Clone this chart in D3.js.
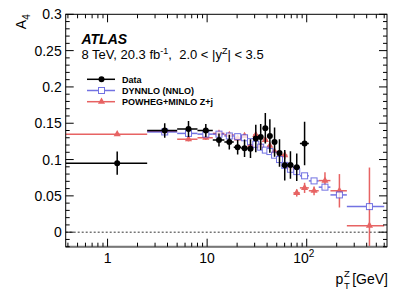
<!DOCTYPE html>
<html>
<head>
<meta charset="utf-8">
<script src="https://cdn.jsdelivr.net/npm/d3@7"></script>
<style>
  body { margin: 0; background: #fff; }
  text { font-family: "Liberation Sans", Arial, sans-serif; }
</style>
</head>
<body>
<div id="vizArea"></div>
<script>

var w = 409
var h = 294

// DATA ********************************
// pT bin edges (GeV)
var binLo = [0, 2.5, 5, 8, 11.4, 14.9, 18.5, 22, 25.5, 29, 32.6, 36.4, 40.4, 44.9, 50.2, 56.4, 63.9, 73.4, 85.4, 105, 132, 173, 253]
var binHi = [2.5, 5, 8, 11.4, 14.9, 18.5, 22, 25.5, 29, 32.6, 36.4, 40.4, 44.9, 50.2, 56.4, 63.9, 73.4, 85.4, 105, 132, 173, 253, 600]

// measured A4 (only up to 105 GeV)
var dataVals = [0.095, 0.140, 0.142, 0.140, 0.127, 0.124, 0.117, 0.1155, 0.115, 0.129, 0.131, 0.143, 0.1325, 0.124, 0.109, 0.092, 0.0926, 0.0894, 0.122]
var dataErr  = [0.016, 0.010, 0.011, 0.009, 0.009, 0.010, 0.010, 0.012, 0.013, 0.019, 0.018, 0.021, 0.023, 0.020, 0.019, 0.021, 0.019, 0.019, 0.030]

// DYNNLO (NNLO), no prediction in first bin
var dynVals = [null, 0.138, 0.136, 0.135, 0.135, 0.1325, 0.1315, 0.130, 0.1246, 0.121, 0.117, 0.113, 0.111, 0.106, 0.100, 0.092, 0.0866, 0.0834, 0.0776, 0.0706, 0.062, 0.0513, 0.0352]
var dynErr   = [null, 0.002, 0.002, 0.002, 0.002, 0.002, 0.002, 0.002, 0.002, 0.002, 0.002, 0.002, 0.002, 0.002, 0.002, 0.002, 0.002, 0.002, 0.002, 0.002, 0.002, 0.002, 0.002]

// POWHEG+MINLO Z+j
var powVals = [0.135, 0.139, 0.128, 0.130, 0.136, 0.134, 0.129, 0.1325, 0.119, 0.134, 0.119, 0.127, 0.119, 0.111, 0.108, 0.106, 0.089, 0.054, 0.061, 0.057, 0.071, 0.057, 0.009]
var powErr   = [0.002, 0.003, 0.003, 0.003, 0.003, 0.003, 0.003, 0.003, 0.004, 0.004, 0.004, 0.004, 0.004, 0.004, 0.005, 0.005, 0.005, 0.005, 0.007, 0.006, 0.0115, 0.023, 0.08]

var yTicks = [0, 0.05, 0.1, 0.15, 0.2, 0.25, 0.3]
var yTickLabels = ["0", "0.05", "0.1", "0.15", "0.2", "0.25", "0.3"]
var xTicks = [1, 10, 100]

var legendNames = ["Data", "DYNNLO (NNLO)", "POWHEG+MINLO Z+j"]

// SET-UP ********************************
var frame = {left: 65.7, right: 387, top: 14.3, bottom: 246.7}
var xMin = 0.38, xMax = 640

var x = d3.scaleLog().domain([xMin, xMax]).range([frame.left, frame.right])
var y = d3.scaleLinear().domain([-0.02, 0.3]).range([frame.bottom, frame.top])

var blue = "#5050dc"
var red = "#e23c3c"

var svg = d3.select("#vizArea").append("svg")
    .attr("width", w)
    .attr("height", h)
    .style("display", "block")

svg.append("rect").attr("width", w).attr("height", h).attr("fill", "#fff")

svg.append("defs").append("clipPath").attr("id", "clip")
    .append("rect")
    .attr("x", frame.left).attr("y", frame.top)
    .attr("width", frame.right - frame.left)
    .attr("height", frame.bottom - frame.top)

function binCenter(i) { return (binLo[i] + binHi[i]) / 2 }
function xs(v) { return x(Math.max(v, xMin)) }

// dashed zero line
svg.append("line")
    .attr("x1", frame.left).attr("x2", frame.right)
    .attr("y1", y(0)).attr("y2", y(0))
    .attr("stroke", "#000").attr("stroke-width", 0.8)
    .attr("stroke-dasharray", "2,2")

var plot = svg.append("g").attr("clip-path", "url(#clip)")

// draw one series: horizontal bin bar, vertical error bar, marker
function drawSeries(vals, errs, color, opacity, width, marker) {
    var pts = vals.map(function(v, i) { return {v: v, e: errs[i], i: i} })
        .filter(function(d) { return d.v !== null })

    var g = plot.append("g").attr("opacity", opacity)

    g.selectAll("line.hbar").data(pts).enter().append("line")
        .attr("x1", function(d) { return xs(binLo[d.i]) })
        .attr("x2", function(d) { return xs(binHi[d.i]) })
        .attr("y1", function(d) { return y(d.v) })
        .attr("y2", function(d) { return y(d.v) })
        .attr("stroke", color).attr("stroke-width", width)

    g.selectAll("line.vbar").data(pts).enter().append("line")
        .attr("x1", function(d) { return x(binCenter(d.i)) })
        .attr("x2", function(d) { return x(binCenter(d.i)) })
        .attr("y1", function(d) { return y(d.v - d.e) })
        .attr("y2", function(d) { return y(d.v + d.e) })
        .attr("stroke", color).attr("stroke-width", width)

    pts.forEach(function(d) {
        marker(g, x(binCenter(d.i)), y(d.v))
    })
}

function circleMarker(g, cx, cy) {
    g.append("circle").attr("cx", cx).attr("cy", cy).attr("r", 3).attr("fill", "#000")
}
function squareMarker(g, cx, cy) {
    g.append("rect").attr("x", cx - 3).attr("y", cy - 3).attr("width", 6).attr("height", 6)
        .attr("fill", "#fff").attr("stroke", blue).attr("stroke-width", 1)
}
function triMarker(g, cx, cy) {
    g.append("path").attr("d", d3.symbol(d3.symbolTriangle, 22)()).attr("transform", "translate(" + cx + "," + cy + ")")
        .attr("fill", red)
}

drawSeries(powVals, powErr, red, 0.8, 1.5, triMarker)
drawSeries(dynVals, dynErr, blue, 0.8, 1.5, squareMarker)
drawSeries(dataVals, dataErr, "#000", 1, 1.5, circleMarker)

// AXES / FRAME ********************************
svg.append("rect")
    .attr("x", frame.left).attr("y", frame.top)
    .attr("width", frame.right - frame.left).attr("height", frame.bottom - frame.top)
    .attr("fill", "none").attr("stroke", "#000").attr("stroke-width", 1)
svg.append("line")
    .attr("x1", frame.left).attr("x2", frame.right)
    .attr("y1", frame.bottom).attr("y2", frame.bottom)
    .attr("stroke", "#777").attr("stroke-width", 2)

var ticks = svg.append("g").attr("stroke", "#000").attr("stroke-width", 1)

// y ticks (left and right), minor every 0.01
d3.range(-2, 31).forEach(function(k) {
    var v = k / 100
    var major = (k % 5 === 0)
    var len = major ? 8 : 4
    ticks.append("line").attr("x1", frame.left).attr("x2", frame.left + len)
        .attr("y1", y(v)).attr("y2", y(v))
    ticks.append("line").attr("x1", frame.right).attr("x2", frame.right - len)
        .attr("y1", y(v)).attr("y2", y(v))
})

// x ticks (bottom and top), log minor
var xMinor = []
;[0.1, 1, 10, 100].forEach(function(dec) {
    d3.range(1, 10).forEach(function(m) {
        var v = dec * m
        if (v >= xMin && v <= xMax) xMinor.push(v)
    })
})
xMinor.forEach(function(v) {
    var len = xTicks.indexOf(v) >= 0 ? 8 : 4
    ticks.append("line").attr("x1", x(v)).attr("x2", x(v))
        .attr("y1", frame.bottom).attr("y2", frame.bottom - len)
    ticks.append("line").attr("x1", x(v)).attr("x2", x(v))
        .attr("y1", frame.top).attr("y2", frame.top + len)
})

// tick labels
svg.selectAll("text.ylab").data(yTicks).enter().append("text")
    .attr("x", frame.left - 4)
    .attr("y", function(d) { return y(d) + 5 })
    .attr("text-anchor", "end")
    .attr("font-size", 14)
    .text(function(d, i) { return yTickLabels[i] })

var xl = svg.append("g").attr("font-size", 14).attr("text-anchor", "middle")
xl.append("text").attr("x", x(1)).attr("y", 263).text("1")
xl.append("text").attr("x", x(10)).attr("y", 263).text("10")
var x100 = xl.append("text").attr("x", x(100) - 3).attr("y", 263)
x100.append("tspan").text("10")
x100.append("tspan").attr("font-size", 10).attr("dy", -6).text("2")

// axis titles
var yt = svg.append("text")
    .attr("transform", "translate(26," + frame.top + ") rotate(-90)")
    .attr("text-anchor", "end")
    .attr("font-size", 14)
yt.append("tspan").text("A")
yt.append("tspan").attr("font-size", 10).attr("dy", 4).text("4")

svg.append("text").attr("x", 335.5).attr("y", 284).attr("font-size", 14).text("p")
svg.append("text").attr("x", 344).attr("y", 277).attr("font-size", 9.5).text("Z")
svg.append("text").attr("x", 344).attr("y", 289).attr("font-size", 9.5).text("T")
svg.append("text").attr("x", 388).attr("y", 284).attr("font-size", 14).attr("text-anchor", "end").text("[GeV]")

// LABELS ********************************
svg.append("text").attr("x", 81.5).attr("y", 43.5)
    .attr("font-size", 14).attr("font-weight", "bold").attr("font-style", "italic")
    .text("ATLAS")

var info = svg.append("text").attr("x", 81.5).attr("y", 58.5).attr("font-size", 13)
    .style("white-space", "pre")
info.append("tspan").text("8 TeV, 20.3 fb")
info.append("tspan").attr("font-size", 9).attr("dy", -5).text("-1")
info.append("tspan").attr("dy", 5).text(",  2.0 < |y")
info.append("tspan").attr("font-size", 9).attr("dy", -5).text("Z")
info.append("tspan").attr("dy", 5).text("| < 3.5")

// legend
var legY = [79.3, 90.5, 101.7]
var legColors = ["#000", blue, red]
var legMarkers = [circleMarker, squareMarker, triMarker]
var leg = svg.append("g")
legendNames.forEach(function(name, i) {
    var g = leg.append("g").attr("opacity", i === 0 ? 1 : 0.8)
    g.append("line").attr("x1", 87).attr("x2", 115)
        .attr("y1", legY[i]).attr("y2", legY[i])
        .attr("stroke", legColors[i]).attr("stroke-width", 1.5)
    legMarkers[i](g, 101.5, legY[i])
    leg.append("text").attr("x", 122).attr("y", legY[i] + 3.3)
        .attr("font-size", 9).attr("font-weight", "bold")
        .text(name)
})

</script>
</body>
</html>
